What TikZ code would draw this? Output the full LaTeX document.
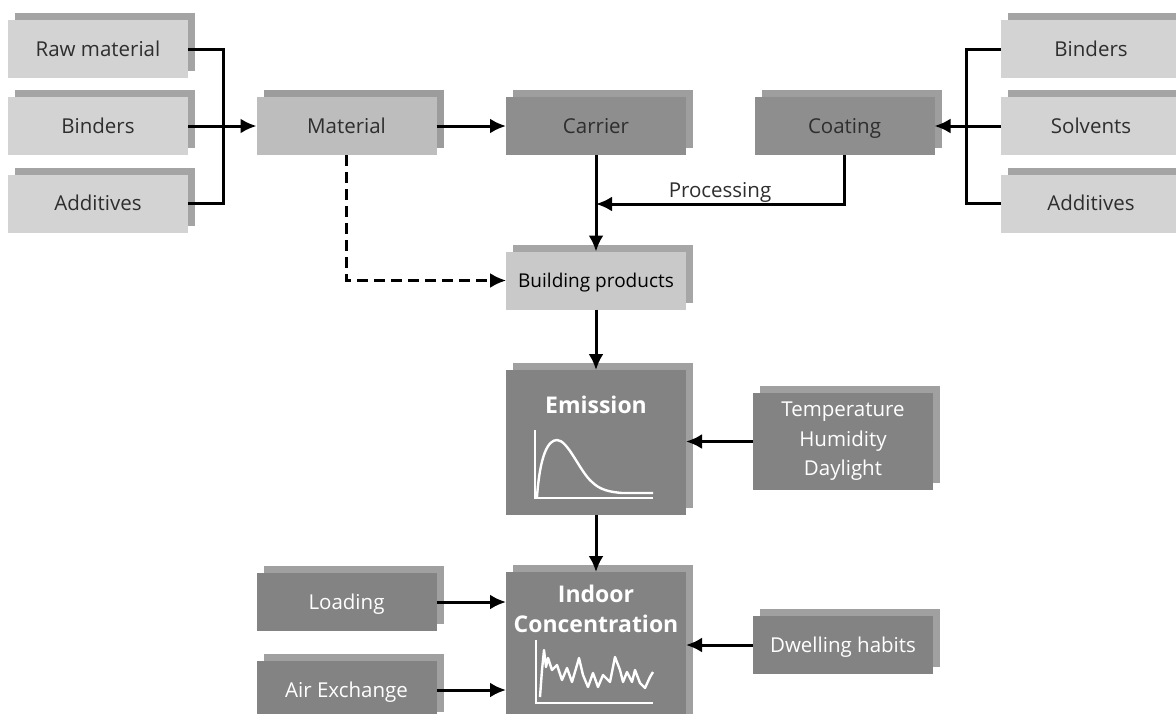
\documentclass[tikz,border=0pt]{standalone}
\usepackage{fontspec}
\setmainfont{Open Sans}
\usetikzlibrary{shadows,arrows.meta}
\definecolor{cLF}{HTML}{D3D3D3}
\definecolor{cLB}{HTML}{A4A4A4}
\definecolor{cMF}{HTML}{BDBDBD}
\definecolor{cMB}{HTML}{9C9C9C}
\definecolor{cCF}{HTML}{8E8E8E}
\definecolor{cCB}{HTML}{9E9E9E}
\definecolor{cDF}{HTML}{838383}
\definecolor{cDB}{HTML}{A0A0A0}
\definecolor{cBF}{HTML}{C9C9C9}
\definecolor{cBB}{HTML}{A6A6A6}
\definecolor{cDT}{HTML}{2E2E2E}
\begin{document}
\begin{tikzpicture}[x=1pt,y=-1pt,
  base/.style 2 args={fill=#1, general shadow={fill=#2, shadow xshift=7pt, shadow yshift=7pt},
    minimum width=180pt, minimum height=58pt, inner sep=0pt, outer sep=0pt, align=center,
    font=\fontsize{20.5}{29.5}\selectfont},
  oneline/.style={text height=17pt, text depth=3pt},
  lbox/.style={base={cLF}{cLB}, text=cDT, oneline},
  mbox/.style={base={cMF}{cMB}, text=cDT, oneline},
  cbox/.style={base={cCF}{cCB}, text=cDT, oneline},
  dbox/.style={base={cDF}{cDB}, text=white},
  bpbox/.style={base={cBF}{cBB}, text=black, font=\fontsize{19}{23}\selectfont, oneline},
  conn/.style={line width=3pt, black},
  arr/.style={conn, -{Latex[length=16pt,width=15pt]}},
  title/.style={text=white, font=\fontsize{23}{30}\selectfont\bfseries, align=center, inner sep=0pt},
  graph/.style={white, line width=2.4pt, line join=round}
]
\useasboundingbox (0,0) rectangle (1176,713);
\clip (0,0) rectangle (1176,713);
\fill[white] (0,0) rectangle (1176,713);

% left inputs
\node[lbox] (raw) at (98,49) {Raw material};
\node[lbox] (lbind) at (98,126) {Binders};
\node[lbox] (ladd) at (98,203.5) {Additives};
% middle row
\node[mbox] (mat) at (346.5,126) {Material};
\node[cbox] (car) at (596,126) {Carrier};
\node[cbox] (coat) at (844.5,126) {Coating};
% right inputs
\node[lbox] (rbind) at (1091,49) {Binders};
\node[lbox] (solv) at (1091,126) {Solvents};
\node[lbox] (radd) at (1091,203.5) {Additives};
% building products
\node[bpbox] (bp) at (596,280.5) {Building products};
% emission
\node[dbox, minimum height=145pt] (em) at (596,442.5) {};
\node[title] (emt) at (596,405) {Emission};
\node[dbox, minimum height=97pt] (temp) at (843,441.5) {Temperature\\Humidity\\Daylight};
% indoor
\node[dbox, minimum height=150pt] (ind) at (596,647) {};
\node[title] (indt) at (596,609) {Indoor\\Concentration};
\node[dbox, oneline] (load) at (346.5,602) {Loading};
\node[dbox, oneline] (air) at (346.5,690) {Air Exchange};
\node[dbox, oneline] (dwell) at (843,645) {Dwelling habits};

% connectors left
\coordinate (lj) at (223,126);
\draw[conn] (raw.east) -| (lj);
\draw[conn] (ladd.east) -| (lj);
\draw[arr] (lbind.east) -- (mat.west);
\draw[arr] (mat.east) -- (car.west);
% connectors right
\coordinate (rj) at (966,126);
\draw[conn] (rbind.west) -| (rj);
\draw[conn] (radd.west) -| (rj);
\draw[arr] (solv.west) -- (coat.east);
% processing
\coordinate (pj) at (596,204);
\draw[arr] (car.south) -- (bp.north);
\draw[arr] (coat.south) |- (pj);
\node[text=cDT, font=\fontsize{20.5}{24}\selectfont, anchor=base, inner sep=0pt] (proc) at (720,197) {Processing};
% dashed
\draw[arr, line width=2.4pt, dash pattern=on 11pt off 6pt] (mat.south) |- (bp.west);
% vertical chain
\draw[arr] (bp.south) -- (em.north);
\draw[arr] (temp.west) -- (temp.west -| em.east);
\draw[arr] (em.south) -- (ind.north);
\draw[arr] (load.east) -- (load.east -| ind.west);
\draw[arr] (air.east) -- (air.east -| ind.west);
\draw[arr] (dwell.west) -- (dwell.west -| ind.east);

% emission graph
\draw[white, line width=1.6pt] (535,430) -- (535,498) -- (653,498);
\draw[graph] (537,497) .. controls (540,455) and (548,440) .. (557,440)
  .. controls (568,440) and (580,472) .. (592,482)
  .. controls (600,490) and (610,492) .. (622,493) -- (653,493);
% indoor graph
\draw[white, line width=1.6pt] (536,640) -- (536,703) -- (653,703);
\draw[graph] (540,697) -- (542,670) -- (544,650) -- (546,667) -- (548,658) -- (552,670)
  -- (557,665) -- (562,680) -- (567,668) -- (572,682) -- (577,665) -- (579,658)
  -- (583,675) -- (588,687) -- (593,673) -- (598,687) -- (603,675) -- (610,682)
  -- (615,657) -- (620,670) -- (623,682) -- (627,672) -- (632,682) -- (635,670)
  -- (640,683) -- (645,688) -- (650,677) -- (653,672);
\end{tikzpicture}
\end{document}
